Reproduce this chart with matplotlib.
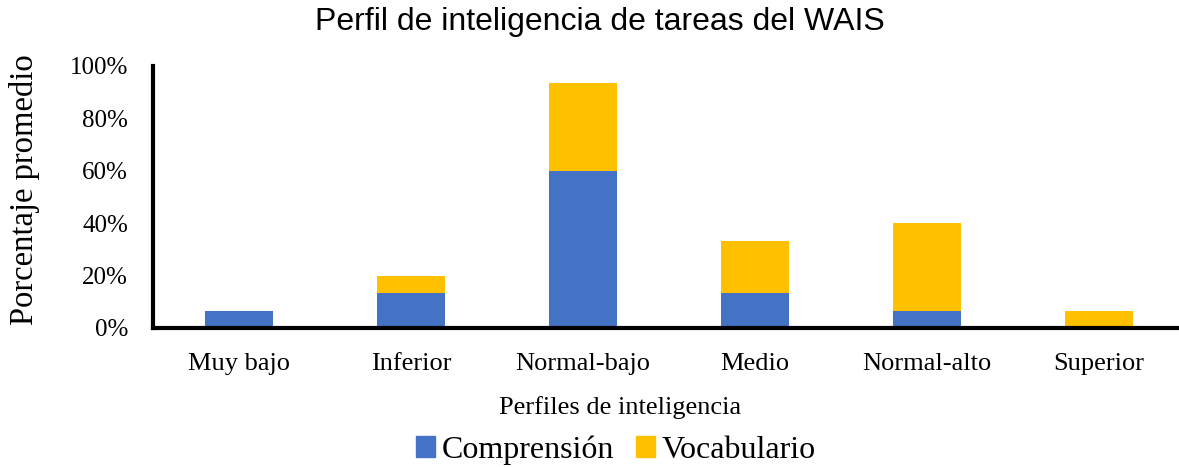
import matplotlib
matplotlib.use("Agg")
import matplotlib.pyplot as plt
from matplotlib.ticker import FuncFormatter, MultipleLocator
from matplotlib.patches import Patch

categories = ["Muy bajo", "Inferior", "Normal-bajo", "Medio", "Normal-alto", "Superior"]
comprension = [6.67, 13.33, 60.0, 13.33, 6.67, 0.0]
vocabulario = [0.0, 6.67, 33.33, 20.0, 33.33, 6.67]
series_names = ["Comprensión", "Vocabulario"]
colors = ["#4472C4", "#FFC000"]

W, H = 1179, 467
fig = plt.figure(figsize=(W / 100, H / 100), dpi=100)
left, right, bottom, top = 153, 1179, 328, 66
ax = fig.add_axes([left / W, 1 - bottom / H, (right - left) / W, (bottom - top) / H])

x = list(range(len(categories)))
ax.bar(x, comprension, width=0.40, color=colors[0], zorder=2)
ax.bar(x, vocabulario, width=0.40, bottom=comprension, color=colors[1], zorder=2)

ax.set_xlim(-0.5, -0.5 + (right - left) / 172)
ax.set_ylim(0, 100)
ax.yaxis.set_major_locator(MultipleLocator(20))
ax.yaxis.set_major_formatter(FuncFormatter(lambda v, p: f"{int(v)}%"))
ax.set_xticks(x)
ax.set_xticklabels(categories)

serif = "Liberation Serif"
for lab in ax.get_xticklabels():
    lab.set_fontfamily(serif)
    lab.set_fontsize(19)
for lab in ax.get_yticklabels():
    lab.set_fontfamily(serif)
    lab.set_fontsize(18)
ax.tick_params(axis="both", length=0)
ax.tick_params(axis="x", pad=18)
ax.tick_params(axis="y", pad=18)

for s in ["top", "right"]:
    ax.spines[s].set_visible(False)
ax.spines["left"].set_linewidth(3)
ax.spines["bottom"].set_linewidth(3)
ax.spines["left"].set_color("black")
ax.spines["bottom"].set_color("black")

fig.text(25 / W, 1 - 190 / H, "Porcentaje promedio", fontfamily=serif, fontsize=23.5,
         rotation=90, ha="center", va="center")
fig.text(620 / W, 1 - 408 / H, "Perfiles de inteligencia", fontfamily=serif, fontsize=19,
         ha="center", va="center")
fig.text(600 / W, 1 - 22 / H, "Perfil de inteligencia de tareas del WAIS", fontfamily="Liberation Sans",
         fontsize=23, ha="center", va="center")

handles = [Patch(color=c) for c in colors]
fig.legend(handles, series_names, loc="center", bbox_to_anchor=(616 / W, 1 - 450 / H), ncol=2,
           frameon=False, prop={"family": serif, "size": 23}, handlelength=0.6, handleheight=0.6,
           handletextpad=0.2, columnspacing=0.7, borderpad=0)

fig.savefig("out.png", dpi=100)
